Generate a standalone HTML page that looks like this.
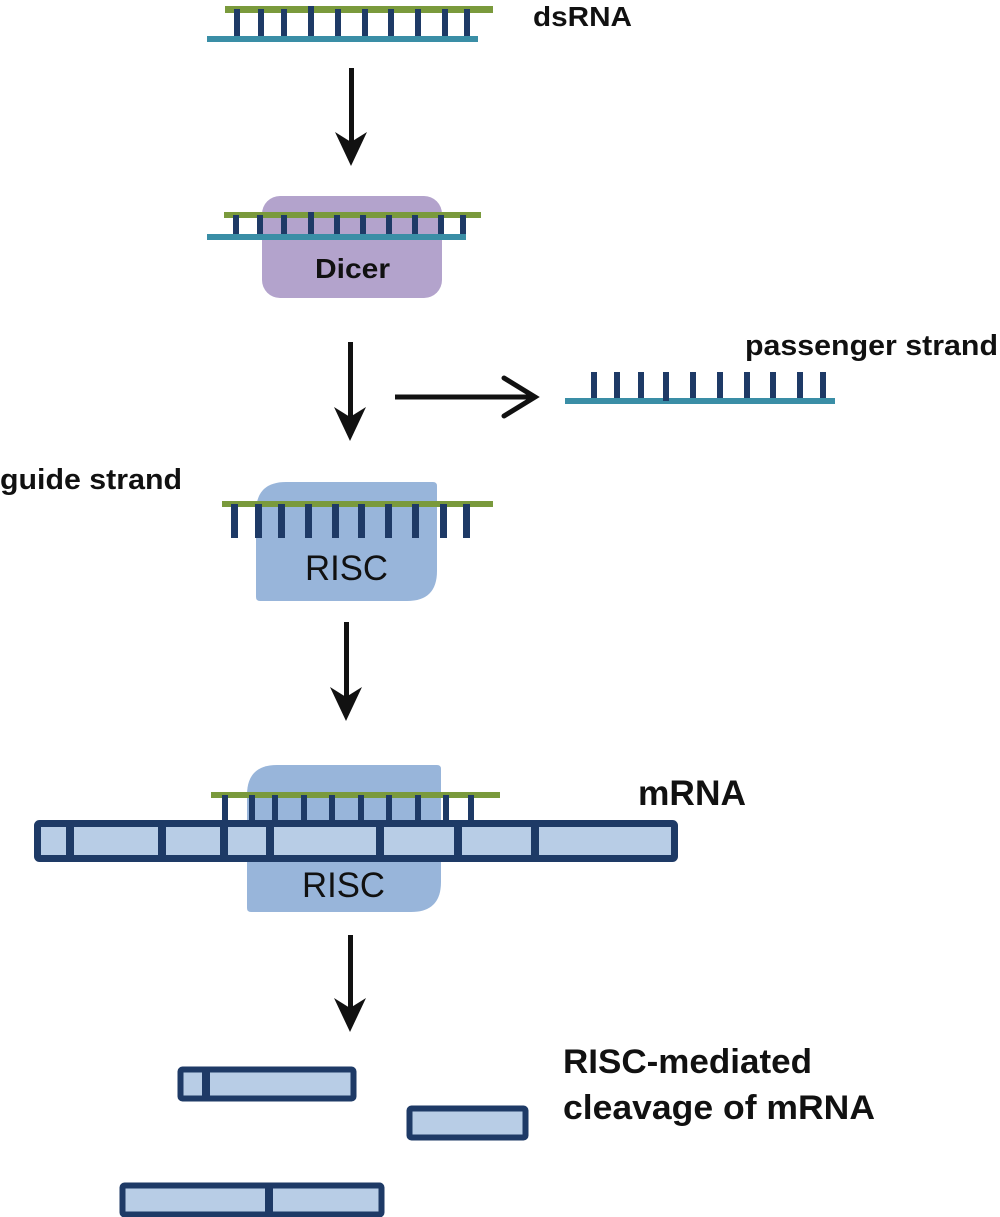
<!DOCTYPE html>
<html><head><meta charset="utf-8"><style>
body{margin:0;background:#fff}
svg{display:block}
text{font-family:"Liberation Sans",Arial,sans-serif;fill:#111}
</style></head><body>
<svg width="1000" height="1217" viewBox="0 0 1000 1217" xmlns="http://www.w3.org/2000/svg">
<defs>
<g id="ah"><path d="M-16,-34 L0,0 L16,-34 L0,-24 Z" fill="#111"/></g>
</defs>
<!-- dsRNA -->
<rect x="225" y="6" width="268" height="7" fill="#7a9a3c"/>
<rect x="207" y="36" width="271" height="6" fill="#3a8ea6"/>
<g fill="#1e3a66">
<rect x="234" y="9" width="6" height="27"/><rect x="258" y="9" width="6" height="27"/><rect x="281" y="9" width="6" height="27"/><rect x="308" y="6" width="6" height="30"/><rect x="335" y="9" width="6" height="27"/><rect x="362" y="9" width="6" height="27"/><rect x="388" y="9" width="6" height="27"/><rect x="415" y="9" width="6" height="27"/><rect x="442" y="9" width="6" height="27"/><rect x="464" y="9" width="6" height="27"/>
</g>
<text x="533" y="26" font-size="28" font-weight="bold" textLength="99" lengthAdjust="spacingAndGlyphs">dsRNA</text>
<!-- arrow 1 -->
<rect x="349" y="68" width="5" height="80" fill="#111"/><use href="#ah" x="351" y="166"/>
<!-- Dicer -->
<rect x="262" y="196" width="180" height="102" rx="18" fill="#b3a3cc"/>
<rect x="224" y="212" width="257" height="6" fill="#7a9a3c"/>
<rect x="207" y="234" width="259" height="6" fill="#3a8ea6"/>
<g fill="#1e3a66">
<rect x="233" y="215" width="6" height="19"/><rect x="257" y="215" width="6" height="19"/><rect x="281" y="215" width="6" height="19"/><rect x="308" y="212" width="6" height="22"/><rect x="334" y="215" width="6" height="19"/><rect x="360" y="215" width="6" height="19"/><rect x="386" y="215" width="6" height="19"/><rect x="412" y="215" width="6" height="19"/><rect x="438" y="215" width="6" height="19"/><rect x="460" y="215" width="6" height="19"/>
</g>
<text x="315" y="278" font-size="28" font-weight="bold" textLength="75" lengthAdjust="spacingAndGlyphs">Dicer</text>
<!-- arrow 2 -->
<rect x="348" y="342" width="5" height="80" fill="#111"/><use href="#ah" x="350" y="441"/>
<!-- horizontal arrow -->
<rect x="395" y="394.5" width="138" height="5" fill="#111"/>
<path d="M504,378 L535,397 L504,416" fill="none" stroke="#111" stroke-width="5" stroke-linecap="round"/>
<!-- passenger -->
<rect x="565" y="398" width="270" height="6" fill="#3a8ea6"/>
<g fill="#1e3a66">
<rect x="591" y="372" width="6" height="26"/><rect x="614" y="372" width="6" height="26"/><rect x="638" y="372" width="6" height="26"/><rect x="663" y="372" width="6" height="29"/><rect x="690" y="372" width="6" height="26"/><rect x="717" y="372" width="6" height="26"/><rect x="744" y="372" width="6" height="26"/><rect x="770" y="372" width="6" height="26"/><rect x="797" y="372" width="6" height="26"/><rect x="820" y="372" width="6" height="26"/>
</g>
<text x="745" y="355" font-size="29" font-weight="bold" textLength="253" lengthAdjust="spacingAndGlyphs">passenger strand</text>
<text x="0" y="489" font-size="29" font-weight="bold" textLength="182" lengthAdjust="spacingAndGlyphs">guide strand</text>
<!-- RISC 1 -->
<path d="M256,512 Q256,482 286,482 L433,482 Q437,482 437,486 L437,571 Q437,601 407,601 L260,601 Q256,601 256,597 Z" fill="#98b5da"/>
<rect x="222" y="501" width="271" height="6" fill="#7a9a3c"/>
<g fill="#1e3a66">
<rect x="231" y="504" width="7" height="34"/><rect x="255" y="504" width="7" height="34"/><rect x="278" y="504" width="7" height="34"/><rect x="305" y="504" width="7" height="34"/><rect x="332" y="504" width="7" height="34"/><rect x="358" y="504" width="7" height="34"/><rect x="385" y="504" width="7" height="34"/><rect x="412" y="504" width="7" height="34"/><rect x="440" y="504" width="7" height="34"/><rect x="463" y="504" width="7" height="34"/>
</g>
<text x="305" y="580" font-size="35" textLength="83" lengthAdjust="spacingAndGlyphs">RISC</text>
<!-- arrow 3 -->
<rect x="344" y="622" width="5" height="80" fill="#111"/><use href="#ah" x="346" y="721"/>
<!-- RISC 2 -->
<path d="M247,795 Q247,765 277,765 L437,765 Q441,765 441,769 L441,882 Q441,912 411,912 L251,912 Q247,912 247,908 Z" fill="#98b5da"/>
<rect x="211" y="792" width="289" height="6" fill="#7a9a3c"/>
<g fill="#1e3a66">
<rect x="222" y="795" width="6" height="28"/><rect x="249" y="795" width="6" height="28"/><rect x="272" y="795" width="6" height="28"/><rect x="301" y="795" width="6" height="28"/><rect x="329" y="795" width="6" height="28"/><rect x="358" y="795" width="6" height="28"/><rect x="386" y="795" width="6" height="28"/><rect x="415" y="795" width="6" height="28"/><rect x="443" y="795" width="6" height="28"/><rect x="468" y="795" width="6" height="28"/>
</g>
<!-- mRNA -->
<rect x="37.5" y="823.5" width="637" height="35" fill="#b8cde6" stroke="#1e3a66" stroke-width="7" rx="2"/>
<g fill="#1e3a66">
<rect x="66" y="823" width="8" height="36"/><rect x="158" y="823" width="8" height="36"/><rect x="220" y="823" width="8" height="36"/><rect x="266" y="823" width="8" height="36"/><rect x="376" y="823" width="8" height="36"/><rect x="454" y="823" width="8" height="36"/><rect x="531" y="823" width="8" height="36"/>
</g>
<text x="638" y="805" font-size="35" font-weight="bold" textLength="108" lengthAdjust="spacingAndGlyphs">mRNA</text>
<text x="302" y="897" font-size="35" textLength="83" lengthAdjust="spacingAndGlyphs">RISC</text>
<!-- arrow 4 -->
<rect x="348" y="935" width="5" height="78" fill="#111"/><use href="#ah" x="350" y="1032"/>
<!-- fragments -->
<rect x="180.5" y="1069.5" width="173" height="29" fill="#b8cde6" stroke="#1e3a66" stroke-width="6" rx="2"/>
<rect x="202" y="1069" width="8" height="30" fill="#1e3a66"/>
<rect x="409.5" y="1108.5" width="116" height="29" fill="#b8cde6" stroke="#1e3a66" stroke-width="6" rx="2"/>
<rect x="122.5" y="1185.5" width="259" height="29" fill="#b8cde6" stroke="#1e3a66" stroke-width="6" rx="2"/>
<rect x="265" y="1185" width="8" height="30" fill="#1e3a66"/>
<text x="563" y="1073" font-size="34" font-weight="bold" textLength="249" lengthAdjust="spacingAndGlyphs">RISC-mediated</text>
<text x="563" y="1119" font-size="34" font-weight="bold" textLength="312" lengthAdjust="spacingAndGlyphs">cleavage of mRNA</text>
</svg>
</body></html>
